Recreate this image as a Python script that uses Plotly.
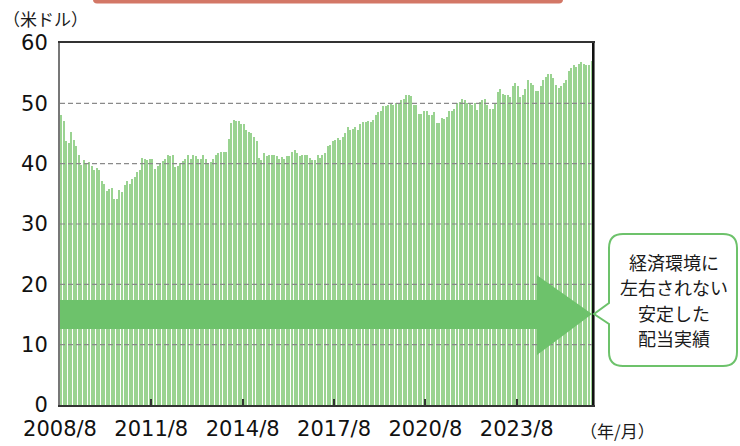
import plotly.graph_objects as go
import pandas as pd

# ---------------- data ----------------
start_month = "2008-08-01"
n_months = 210  # 2008/8 .. 2026/1
months = [d.strftime("%Y-%m-%d") for d in pd.date_range(start_month, periods=n_months, freq="MS")]

dividends = [
    48.0, 47.1, 43.7, 43.4, 45.2, 44.0, 43.0, 41.4, 39.7, 40.6,
    40.0, 40.3, 39.6, 38.9, 39.3, 38.9, 37.2, 36.7, 35.5, 35.8,
    36.0, 34.2, 34.2, 35.7, 35.3, 36.4, 37.1, 36.6, 37.5, 37.8,
    38.6, 38.9, 41.0, 40.8, 40.6, 40.7, 40.8, 39.1, 39.6, 40.0,
    40.4, 40.8, 41.4, 41.2, 41.5, 39.4, 39.6, 40.1, 40.4, 40.8,
    41.4, 40.8, 41.4, 41.3, 40.8, 40.8, 41.5, 40.8, 39.9, 40.3,
    40.8, 41.5, 41.7, 41.9, 41.9, 41.9, 44.1, 46.8, 47.3, 47.1,
    47.1, 46.6, 46.6, 45.6, 45.2, 45.1, 44.5, 43.8, 41.0, 40.6,
    41.8, 41.3, 41.5, 41.4, 41.4, 41.2, 40.7, 41.1, 40.8, 41.3,
    41.2, 41.9, 42.2, 41.7, 41.2, 41.5, 41.4, 41.4, 40.9, 40.6,
    40.6, 41.4, 41.0, 41.4, 41.8, 42.9, 43.1, 43.7, 44.0, 44.2,
    43.9, 44.5, 45.1, 46.0, 45.5, 45.7, 46.1, 45.5, 46.5, 46.9,
    46.9, 47.0, 46.9, 47.3, 48.0, 48.6, 48.8, 49.5, 49.5, 49.8,
    50.1, 49.7, 50.0, 50.1, 50.5, 50.7, 51.3, 51.3, 51.2, 49.7,
    49.7, 48.2, 48.2, 48.8, 48.8, 48.1, 48.1, 48.6, 46.8, 46.8,
    47.6, 47.4, 47.7, 48.7, 48.7, 49.1, 50.1, 50.2, 50.8, 50.6,
    50.1, 50.1, 49.7, 50.1, 48.9, 50.3, 50.6, 50.8, 49.8, 49.0,
    49.1, 50.1, 51.9, 52.3, 51.6, 51.3, 51.4, 51.1, 52.9, 53.3,
    52.8, 51.1, 51.4, 52.4, 53.9, 53.4, 53.1, 52.1, 52.1, 52.8,
    53.9, 54.4, 54.9, 54.9, 54.2, 53.1, 52.5, 52.8, 53.4, 53.9,
    55.4, 55.9, 56.4, 56.0, 56.5, 56.9, 56.6, 56.4, 56.4, 57.1,
]

tick_dates = ["2008-08-01", "2011-08-01", "2014-08-01", "2017-08-01", "2020-08-01", "2023-08-01"]
tick_labels = ["2008/8", "2011/8", "2014/8", "2017/8", "2020/8", "2023/8"]
y_ticks = [0, 10, 20, 30, 40, 50, 60]
grid_values = [10, 20, 30, 40, 50]

callout_lines = ["経済環境に", "左右されない", "安定した", "配当実績"]
y_unit = "（米ドル）"
x_unit = "（年/月）"

# ---------------- layout geometry (pixels) ----------------
FIG_W, FIG_H = 740, 446
ML, MR, MT, MB = 60, 147, 43, 41
PW = FIG_W - ML - MR
PH = FIG_H - MT - MB


def fx(px):
    return (px - ML) / PW


def fy(py):
    return (FIG_H - MB - py) / PH


def P(x, y):
    return f"{fx(x):.5f},{fy(y):.5f}"


BAR_COLOR = "#9AD391"
ARROW_COLOR = "#6DC26B"
JP_FONT = "Noto Sans CJK JP"
NUM_FONT = "DejaVu Sans"

fig = go.Figure()
fig.add_trace(go.Bar(
    x=months,
    y=dividends,
    xperiod="M1",
    xperiodalignment="middle",
    width=0.52 * 30.44 * 86400000,
    marker=dict(color=BAR_COLOR, line=dict(width=0)),
    hoverinfo="x+y",
))

shapes = []
# dashed gridlines above bars
for g in grid_values:
    shapes.append(dict(type="line", xref="paper", yref="y", x0=0, x1=1, y0=g, y1=g,
                       line=dict(color="#8a8a8a", width=1.2, dash="5px,3px"), layer="above"))

# darker right border of the plot frame
shapes.append(dict(type="line", xref="paper", yref="paper", x0=1, x1=1, y0=0, y1=1,
                   line=dict(color="#111", width=2), layer="above"))

# big arrow
bx, tx = fx(537), fx(592)
arrow_path = (f"M 0,12.6 L {bx},12.6 L {bx},8.3 L {tx},15.1 L {bx},21.5 "
              f"L {bx},17.4 L 0,17.4 Z")
shapes.append(dict(type="path", xref="paper", yref="y", path=arrow_path,
                   fillcolor=ARROW_COLOR, line=dict(width=0), layer="above"))

# callout box with pointer
L_, R_, T_, B_, r = 609, 737, 234, 366, 14
callout_path = (
    f"M {P(L_ + r, T_)} L {P(R_ - r, T_)} Q {P(R_, T_)} {P(R_, T_ + r)} "
    f"L {P(R_, B_ - r)} Q {P(R_, B_)} {P(R_ - r, B_)} "
    f"L {P(L_ + r, B_)} Q {P(L_, B_)} {P(L_, B_ - r)} "
    f"L {P(L_, 324)} L {P(594, 314)} L {P(L_, 303)} "
    f"L {P(L_, T_ + r)} Q {P(L_, T_)} {P(L_ + r, T_)} Z"
)
shapes.append(dict(type="path", xref="paper", yref="paper", path=callout_path,
                   fillcolor="white", line=dict(color=ARROW_COLOR, width=2), layer="above"))

# top salmon banner (cut off)
rr = 4
banner_path = (
    f"M {P(93, -6)} L {P(563, -6)} L {P(563, 3.5 - rr)} Q {P(563, 3.5)} {P(563 - rr, 3.5)} "
    f"L {P(93 + rr, 3.5)} Q {P(93, 3.5)} {P(93, 3.5 - rr)} Z"
)
shapes.append(dict(type="path", xref="paper", yref="paper", path=banner_path,
                   fillcolor="#D37766", line=dict(width=0), layer="above"))

annotations = []
line_y = [262, 287, 313, 338]
for txt, ly in zip(callout_lines, line_y):
    annotations.append(dict(x=fx(674), y=fy(ly), xref="paper", yref="paper", text=txt,
                            showarrow=False, xanchor="center", yanchor="middle",
                            font=dict(family=JP_FONT, size=18, color="#1a1a1a")))
annotations += [
    dict(x=fx(45), y=fy(18), xref="paper", yref="paper", text=y_unit,
         showarrow=False, xanchor="center", yanchor="middle",
         font=dict(family=JP_FONT, size=17, color="#1a1a1a")),
    dict(x=fx(617), y=fy(430), xref="paper", yref="paper", text=x_unit,
         showarrow=False, xanchor="center", yanchor="middle",
         font=dict(family=JP_FONT, size=17, color="#1a1a1a")),
]

fig.update_layout(
    width=FIG_W, height=FIG_H,
    margin=dict(l=ML, r=MR, t=MT, b=MB, pad=0, autoexpand=False),
    paper_bgcolor="white", plot_bgcolor="white",
    showlegend=False,
    bargap=0,
    shapes=shapes,
    annotations=annotations,
    xaxis=dict(
        type="date", automargin=False,
        range=["2008-08-01", "2026-02-01"],
        tickmode="array", tickvals=tick_dates, ticktext=tick_labels,
        ticks="inside", ticklen=6, tickwidth=1.5, tickcolor="#333",
        showline=True, linecolor="#333", linewidth=1.5, mirror=True,
        showgrid=False, zeroline=False,
        tickfont=dict(family=NUM_FONT, size=21, color="#111"),
        ticklabelstandoff=4,
    ),
    yaxis=dict(
        range=[0, 60], automargin=False,
        tickmode="array", tickvals=y_ticks,
        ticks="", showline=True, linecolor="#777", linewidth=2, mirror=True,
        showgrid=False, zeroline=False,
        tickfont=dict(family=NUM_FONT, size=21, color="#111"),
        ticklabelstandoff=6,
    ),
)

fig.write_html(
    "out.html",
    config={"displayModeBar": False},
    post_script="document.body.style.margin='0px';document.body.style.padding='0px';",
)
